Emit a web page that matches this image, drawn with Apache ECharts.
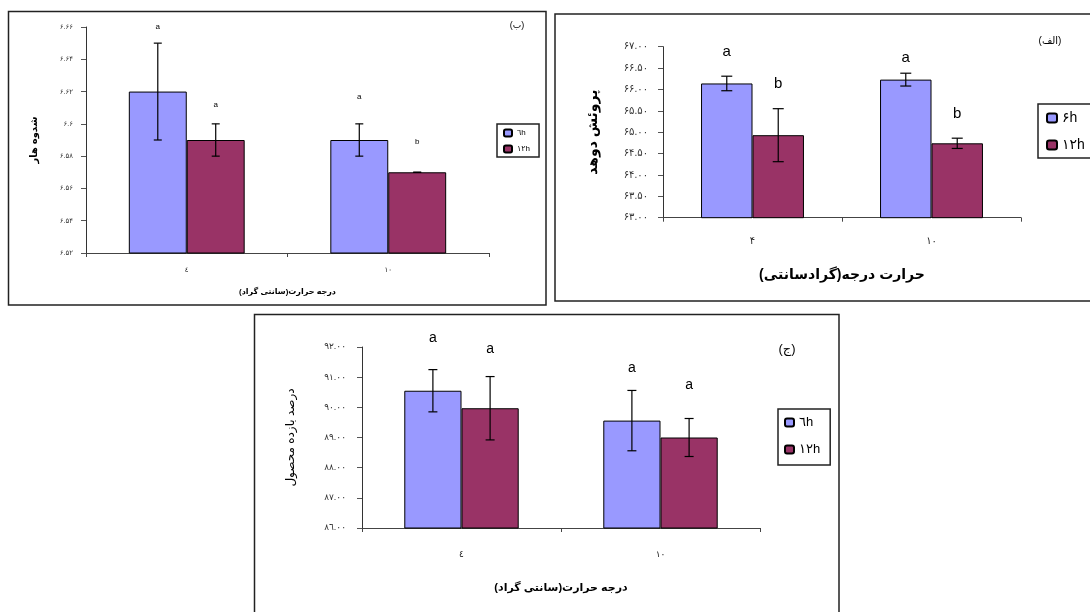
<!DOCTYPE html>
<html dir="ltr">
<head>
<meta charset="utf-8">
<script src="https://cdn.jsdelivr.net/npm/echarts@6/dist/echarts.min.js"></script>
<style>
html,body{margin:0;padding:0;background:#fff;}
#c{width:1090px;height:612px;}
</style>
</head>
<body>
<div id="c"></div>
<script>
// ---------- DATA ----------
// Chart (ب)
var catsB = ['٤', '١٠'];
var ticksB = ['۶.۵۲', '۶.۵۴', '۶.۵۶', '۶.۵۸', '۶.۶', '۶.۶۲', '۶.۶۴', '۶.۶۶'];
var b6 = [6.62, 6.59];
var b6Err = [0.03, 0.01];
var b12 = [6.59, 6.57];
var b12Err = [0.01, 0.0];
var b6Letters = ['a', 'a'];
var b12Letters = ['a', 'b'];
var b6LetterAt = [6.66, 6.617];
var b12LetterAt = [6.612, 6.589];

// Chart (الف)
var catsA = ['۴', '۱۰'];
var ticksA = ['۶۳.۰۰', '۶۳.۵۰', '۶۴.۰۰', '۶۴.۵۰', '۶۵.۰۰', '۶۵.۵۰', '۶۶.۰۰', '۶۶.۵۰', '۶۷.۰۰'];
var a6 = [66.14, 66.23];
var a6Err = [0.17, 0.15];
var a12 = [64.93, 64.74];
var a12Err = [0.62, 0.12];
var a6Letters = ['a', 'a'];
var a12Letters = ['b', 'b'];
var a6LetterAt = [66.88, 66.74];
var a12LetterAt = [66.13, 65.43];

// Chart (ج)
var catsC = ['٤', '١٠'];
var ticksC = ['٨٦.٠٠', '٨٧.٠٠', '٨٨.٠٠', '٨٩.٠٠', '٩٠.٠٠', '٩١.٠٠', '٩٢.٠٠'];
var c6 = [90.55, 89.56];
var c6Err = [0.70, 1.0];
var c12 = [89.97, 89.0];
var c12Err = [1.05, 0.63];
var c6Letters = ['a', 'a'];
var c12Letters = ['a', 'a'];
var c6LetterAt = [92.28, 91.31];
var c12LetterAt = [91.94, 90.75];

// Axis titles
var xTitleB = 'درجه حرارت(سانتی گراد)';
var xTitleA = 'حرارت درجه(گرادسانتی)';
var xTitleC = 'درجه حرارت(سانتی گراد)';
var yTitleB = 'شدوه هار';
var yTitleA = 'پروئش دوهد';
var yTitleC = 'درصد بازده محصول';

// ---------- STYLE ----------
var FONT = 'Arial, "Liberation Sans", "DejaVu Sans", sans-serif';
var BLUE = '#9999FF';
var MAROON = '#993366';
var GAP = 0.425;
var RLM = '\u200F';
function rtl(s) { return RLM + s + RLM; }

var chart = echarts.init(document.getElementById('c'), null, {renderer: 'canvas'});

function errRender(values, errs, letters, letterAt, side, capW, fs) {
  return function (params, api) {
    var i = params.dataIndex;
    var c = api.coord([i, values[i]]);
    var band = api.size([1, 0])[0];
    var w = band * (1 - GAP) / 2;
    var x = c[0] + side * w / 2;
    var top = api.coord([i, values[i] + errs[i]])[1];
    var bot = api.coord([i, values[i] - errs[i]])[1];
    var ly = api.coord([i, letterAt[i]])[1];
    var ls = {stroke: '#000', lineWidth: 1.2};
    return {
      type: 'group',
      children: [
        {type: 'line', shape: {x1: x, y1: top, x2: x, y2: bot}, style: ls},
        {type: 'line', shape: {x1: x - capW / 2, y1: top, x2: x + capW / 2, y2: top}, style: ls},
        {type: 'line', shape: {x1: x - capW / 2, y1: bot, x2: x + capW / 2, y2: bot}, style: ls},
        {type: 'text', style: {text: letters[i], x: x, y: ly, align: 'center', verticalAlign: 'middle',
          fontSize: fs, fontFamily: FONT, fill: '#000'}}
      ]
    };
  };
}

function pairs(arr) { return arr.map(function (v, i) { return [i, v]; }); }

function barSeries(name, data, color, idx) {
  return {
    type: 'bar', name: name, data: data, xAxisIndex: idx, yAxisIndex: idx,
    barGap: '0%', barCategoryGap: (GAP * 100) + '%',
    itemStyle: {color: color, borderColor: '#000', borderWidth: 1},
    emphasis: {disabled: true}, animation: false
  };
}
function errSeries(values, errs, letters, letterAt, side, capW, fs, idx) {
  return {
    type: 'custom', data: pairs(values), xAxisIndex: idx, yAxisIndex: idx,
    renderItem: errRender(values, errs, letters, letterAt, side, capW, fs),
    clip: false, z: 5, animation: false, silent: true
  };
}

function yAxisDef(idx, min, max, interval, ticks, fs, margin, name, nameFs, nameBold, nameGap) {
  return {
    type: 'value', gridIndex: idx, min: min, max: max, interval: interval,
    axisLine: {show: true, lineStyle: {color: '#333', width: 1}},
    axisTick: {show: true, length: 5, lineStyle: {color: '#555'}},
    splitLine: {show: false},
    axisLabel: {fontSize: fs, fontFamily: FONT, color: '#333', margin: margin,
      formatter: function (v, i) { return ticks[i]; }},
    name: rtl(name), nameLocation: 'middle', nameRotate: 90, nameGap: nameGap,
    nameTextStyle: {fontSize: nameFs, fontWeight: nameBold ? 'bold' : 'normal', fontFamily: FONT, color: '#000'}
  };
}
function xAxisDef(idx, cats, fs, margin, name, nameFs, nameGap) {
  return {
    type: 'category', gridIndex: idx, data: cats,
    axisLine: {show: true, lineStyle: {color: '#444', width: 1}},
    axisTick: {show: true, length: 4, lineStyle: {color: '#444'}},
    axisLabel: {fontSize: fs, fontFamily: FONT, color: '#222', margin: margin},
    name: rtl(name), nameLocation: 'middle', nameGap: nameGap,
    nameTextStyle: {fontSize: nameFs, fontWeight: 'bold', fontFamily: FONT, color: '#000'}
  };
}

var option = {
  backgroundColor: '#fff',
  animation: false,
  textStyle: {fontFamily: FONT},
  grid: [
    {left: 86, top: 27, width: 403, height: 226},
    {left: 663, top: 46.7, width: 358, height: 171},
    {left: 362, top: 347, width: 398, height: 181}
  ],
  xAxis: [
    xAxisDef(0, catsB, 7, 14, xTitleB, 8, 35),
    xAxisDef(1, catsA, 10, 19, xTitleA, 14, 50),
    xAxisDef(2, catsC, 9, 22, xTitleC, 11, 54)
  ],
  yAxis: [
    yAxisDef(0, 6.52, 6.66, 0.02, ticksB, 7, 13, yTitleB, 10, true, 47),
    yAxisDef(1, 63, 67, 0.5, ticksA, 10, 15, yTitleA, 14, true, 63),
    yAxisDef(2, 86, 92, 1, ticksC, 9, 16, yTitleC, 12, false, 65)
  ],
  legend: [
    {data: ['٦h', '١٢h'], orient: 'vertical', left: 497, top: 124, padding: [4, 9, 3, 6],
      itemWidth: 8, itemHeight: 7, itemGap: 6, backgroundColor: '#fff',
      borderColor: '#222', borderWidth: 1.5, selectedMode: false,
      textStyle: {fontSize: 8, lineHeight: 10, fontFamily: FONT, color: '#000'}},
    {data: ['۶h', '۱۲h'], orient: 'vertical', left: 1038, top: 104, padding: [6, 20, 5, 8],
      itemWidth: 10, itemHeight: 9, itemGap: 11, backgroundColor: '#fff',
      borderColor: '#222', borderWidth: 1.5, selectedMode: false,
      textStyle: {fontSize: 14, lineHeight: 16, fontFamily: FONT, color: '#000'}},
    {data: ['٦h', '١٢h'], orient: 'vertical', left: 778, top: 409, padding: [6, 10, 8, 6],
      itemWidth: 9, itemHeight: 8, itemGap: 12, backgroundColor: '#fff',
      borderColor: '#222', borderWidth: 1.5, selectedMode: false,
      textStyle: {fontSize: 13, lineHeight: 15, fontFamily: FONT, color: '#000'}}
  ],
  graphic: [
    {type: 'rect', shape: {x: 8.5, y: 11.5, width: 537.5, height: 293.5}, style: {fill: 'none', stroke: '#222', lineWidth: 1.5}, silent: true},
    {type: 'rect', shape: {x: 555, y: 14, width: 560, height: 287}, style: {fill: 'none', stroke: '#222', lineWidth: 1.5}, silent: true},
    {type: 'rect', shape: {x: 254.5, y: 314.5, width: 584.5, height: 320}, style: {fill: 'none', stroke: '#222', lineWidth: 1.5}, silent: true},
    {type: 'text', style: {text: '(ب)', x: 517, y: 26, align: 'center', verticalAlign: 'middle', fontSize: 9, fontFamily: FONT, fill: '#000'}},
    {type: 'text', style: {text: '(الف)', x: 1050, y: 41, align: 'center', verticalAlign: 'middle', fontSize: 10, fontFamily: FONT, fill: '#000'}},
    {type: 'text', style: {text: '(ج)', x: 787, y: 349, align: 'center', verticalAlign: 'middle', fontSize: 13, fontFamily: FONT, fill: '#000'}}
  ],
  series: [
    barSeries('٦h', b6, BLUE, 0),
    barSeries('١٢h', b12, MAROON, 0),
    errSeries(b6, b6Err, b6Letters, b6LetterAt, -1, 8, 8, 0),
    errSeries(b12, b12Err, b12Letters, b12LetterAt, 1, 8, 8, 0),

    barSeries('۶h', a6, BLUE, 1),
    barSeries('۱۲h', a12, MAROON, 1),
    errSeries(a6, a6Err, a6Letters, a6LetterAt, -1, 11, 15, 1),
    errSeries(a12, a12Err, a12Letters, a12LetterAt, 1, 11, 15, 1),

    barSeries('٦h', c6, BLUE, 2),
    barSeries('١٢h', c12, MAROON, 2),
    errSeries(c6, c6Err, c6Letters, c6LetterAt, -1, 9, 14, 2),
    errSeries(c12, c12Err, c12Letters, c12LetterAt, 1, 9, 14, 2)
  ]
};
chart.setOption(option);
</script>
</body>
</html>
